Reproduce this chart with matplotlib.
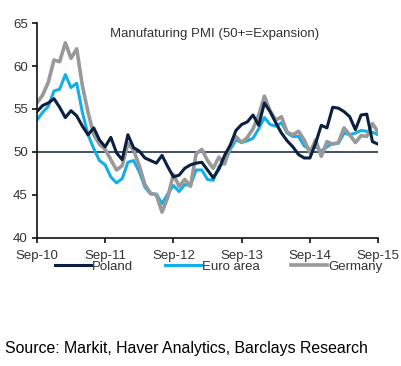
import numpy as np
import matplotlib
matplotlib.use("Agg")
import matplotlib.pyplot as plt

# monthly PMI readings, Sep-10 .. Sep-15
tick_labels = ["Sep-10", "Sep-11", "Sep-12", "Sep-13", "Sep-14", "Sep-15"]

poland = [54.7, 55.4, 55.7, 56.2, 55.2, 54.0, 54.8, 54.2, 53.0, 52.0,
          52.8, 51.4, 50.6, 51.7, 49.9, 49.1, 52.0, 50.5, 50.1, 49.3,
          49.0, 48.7, 49.6, 48.3, 47.1, 47.3, 48.1, 48.5, 48.7, 48.8,
          47.9, 47.0, 48.0, 49.6, 50.8, 52.5, 53.2, 53.5, 54.3, 53.1,
          55.7, 54.7, 53.4, 52.2, 51.3, 50.6, 49.7, 49.3, 49.3, 51.0,
          53.1, 52.8, 55.2, 55.1, 54.7, 54.1, 52.6, 54.3, 54.4, 51.2, 50.9]

euro = [53.7, 54.6, 55.3, 57.1, 57.3, 59.0, 57.5, 58.0, 54.6, 52.0,
        50.4, 49.0, 48.5, 47.1, 46.4, 46.9, 48.8, 49.0, 47.7, 45.9,
        45.1, 45.1, 44.0, 45.1, 46.1, 45.4, 46.2, 46.1, 47.9, 47.9,
        46.8, 46.7, 48.3, 48.8, 50.3, 51.4, 51.1, 51.3, 51.6, 52.7,
        54.0, 53.2, 53.0, 53.4, 52.2, 51.8, 51.8, 50.7, 50.3, 50.6,
        50.1, 50.6, 51.0, 51.0, 52.2, 52.0, 52.2, 52.5, 52.4, 52.3, 52.0]

germany = [55.7, 56.6, 58.1, 60.7, 60.5, 62.7, 60.9, 62.0, 57.7, 54.6,
           52.0, 50.9, 50.3, 49.1, 47.9, 48.4, 51.0, 50.2, 48.4, 46.2,
           45.2, 45.0, 43.0, 44.7, 47.4, 46.0, 46.8, 46.0, 49.8, 50.3,
           49.0, 48.1, 49.4, 48.6, 50.7, 51.8, 51.1, 51.7, 52.7, 54.3,
           56.5, 54.8, 53.7, 54.1, 52.3, 52.0, 52.4, 51.4, 49.9, 51.4,
           49.5, 51.2, 50.9, 51.1, 52.8, 52.0, 51.1, 51.9, 51.8, 53.3, 52.3]

months = np.arange(len(poland))

fig = plt.figure(figsize=(4.01, 3.66), dpi=100)
ax = fig.add_axes([0.092, 0.350, 0.851, 0.587])

txt = "#333333"
ax.axhline(50, color="#0b1f3f", lw=1.1, zorder=1)
ax.plot(months, poland, color="#0b1f3f", lw=2.2, label="Poland", zorder=3)
ax.plot(months, euro, color="#14aee8", lw=2.2, label="Euro area", zorder=2)
ax.plot(months, germany, color="#999999", lw=2.6, label="Germany", zorder=2)

ax.set_xlim(0, 60)
ax.set_ylim(40, 65)
ax.set_xticks(np.arange(0, 61, 12))
ax.set_xticklabels(tick_labels)
ax.set_yticks(np.arange(40, 66, 5))

for s in ["top", "right"]:
    ax.spines[s].set_visible(False)
for s in ["left", "bottom"]:
    ax.spines[s].set_color("#111111")
    ax.spines[s].set_linewidth(1.2)
ax.tick_params(axis="both", direction="out", length=3.5, width=1.2,
               color="#111111", labelsize=9.5, labelcolor=txt, pad=3)
ax.tick_params(axis="x", pad=5)
for lab in ax.get_xticklabels() + ax.get_yticklabels():
    lab.set_family("Liberation Sans")

ax.text(0.52, 0.975, "Manufaturing PMI (50+=Expansion)", transform=ax.transAxes,
        ha="center", va="top", fontsize=9.5, color=txt, family="Liberation Sans")

leg = fig.legend(loc="center", bbox_to_anchor=(0.546, 0.272), ncol=3, frameon=False,
                 fontsize=9.5, handlelength=2.7, handletextpad=0.1, columnspacing=2.4)
for t in leg.get_texts():
    t.set_color(txt)
    t.set_family("Liberation Sans")

fig.text(0.012, 0.035, "Source: Markit, Haver Analytics, Barclays Research",
         fontsize=11.4, color="black", family="Liberation Sans")

fig.savefig("out.png", dpi=100)
